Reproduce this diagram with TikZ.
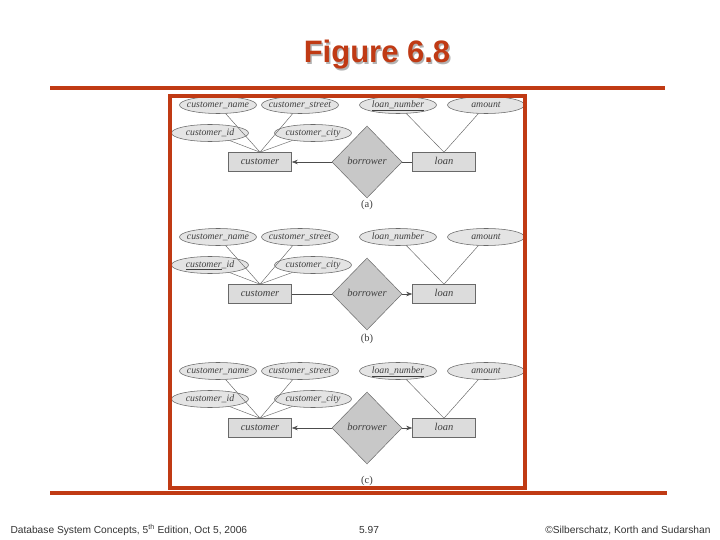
\documentclass[tikz,border=0pt]{standalone}
\usepackage{fontspec}
\setmainfont{Liberation Serif}
\newfontfamily\slidesans{Liberation Sans}
\usetikzlibrary{shapes.geometric,arrows.meta}
\definecolor{brick}{RGB}{192,58,20}
\definecolor{attrfill}{RGB}{228,228,228}
\definecolor{entfill}{RGB}{220,220,220}
\definecolor{relfill}{RGB}{200,200,200}
\definecolor{edge}{RGB}{105,105,105}
\newcommand\attxt[1]{\makebox[0pt][c]{#1}}
\tikzset{
  attr/.style={ellipse, draw=edge, line width=0.55pt, fill=attrfill, inner sep=0pt,
    text height=7pt, text depth=2pt,
    minimum width=77pt, minimum height=17pt, font=\fontsize{9.8}{12}\selectfont\itshape, text=black!75},
  entity/.style={rectangle, draw=edge, line width=0.6pt, fill=entfill, inner sep=0pt,
    text height=7pt, text depth=2pt,
    minimum width=63pt, minimum height=19pt, font=\fontsize{10.5}{12}\selectfont\itshape, text=black!75},
  rel/.style={diamond, draw=edge, line width=0.5pt, fill=relfill, inner sep=0pt,
    text height=7pt, text depth=2pt,
    minimum width=70pt, minimum height=72pt, font=\fontsize{10.5}{12}\selectfont\itshape, text=black!75},
  attrline/.style={draw=black!60, line width=0.45pt},
  conn/.style={draw=black!70, line width=0.6pt},
  toarrow/.style={-{Stealth[length=6pt,width=4.5pt]}},
  plain/.style={-},
  sublabel/.style={font=\fontsize{10.5}{12}\selectfont, text=black!75},
  redline/.style={draw=brick, line width=4pt},
}
\newcommand\ERpart[8]{%
  \begin{scope}[shift={(0,#2)}]
    \node[attr] (#1cn) at (218,105) {\attxt{customer\_name}};
    \node[attr] (#1cs) at (300,105) {\attxt{customer\_street}};
    \node[attr] (#1ln) at (398,105) {\attxt{#4}};
    \node[attr] (#1am) at (486,105) {\attxt{amount}};
    \node[attr] (#1cid) at (210,133) {\attxt{#3}};
    \node[attr] (#1cc) at (313,133) {\attxt{customer\_city}};
    \node[entity] (#1cust) at (260,162) {customer};
    \node[rel] (#1borr) at (367,162) {borrower};
    \node[entity] (#1loan) at (444,162) {loan};
    \node[sublabel] (#1lab) at (367,#8) {#7};
    \draw[attrline] (#1cn) -- (#1cust.north);
    \draw[attrline] (#1cs) -- (#1cust.north);
    \draw[attrline] (#1cid) -- (#1cust.north);
    \draw[attrline] (#1cc) -- (#1cust.north);
    \draw[attrline] (#1ln) -- (#1loan.north);
    \draw[attrline] (#1am) -- (#1loan.north);
    \draw[conn,#5] (#1borr.west) -- (#1cust.east);
    \draw[conn,#6] (#1borr.east) -- (#1loan.west);
  \end{scope}}
\begin{document}
\begin{tikzpicture}[x=1pt,y=-1pt]
  \useasboundingbox (0,0) rectangle (720,540);
  \fill[white] (0,0) rectangle (720,540);
  % title
  \node[font=\slidesans\bfseries\fontsize{31}{34}\selectfont, text=black!30] at (378.5,56.5) {Figure 6.8};
  \node[font=\slidesans\bfseries\fontsize{31}{34}\selectfont, text=brick] (title) at (377,55) {Figure 6.8};
  % decorative lines
  \coordinate (tl) at (50,88);
  \coordinate (tr) at (665,88);
  \coordinate (bl) at (50,493);
  \coordinate (br) at (667,493);
  \draw[redline] (tl) -- (tr);
  \draw[redline] (bl) -- (br);
  % diagrams
  \ERpart{a}{0}{customer\_id}{\underline{loan\_number}}{toarrow}{plain}{(a)}{205}
  \ERpart{b}{132}{\underline{customer}\_id}{loan\_number}{plain}{toarrow}{(b)}{207}
  \ERpart{c}{266}{customer\_id}{\underline{loan\_number}}{toarrow}{toarrow}{(c)}{215}
  % frame
  \draw[draw=brick, line width=4pt] (170,96) rectangle (525,488);
  % footer
  \node[anchor=west, font=\slidesans\fontsize{10.2}{12}\selectfont, text=black!80] (f1) at (7,530) {Database System Concepts, 5\textsuperscript{th} Edition, Oct 5, 2006};
  \node[font=\slidesans\fontsize{10.2}{12}\selectfont, text=black!80] (f2) at (369,530) {5.97};
  \node[anchor=east, font=\slidesans\fontsize{10.2}{12}\selectfont, text=black!80] (f3) at (714,530) {©Silberschatz, Korth and Sudarshan};
\end{tikzpicture}
\end{document}
